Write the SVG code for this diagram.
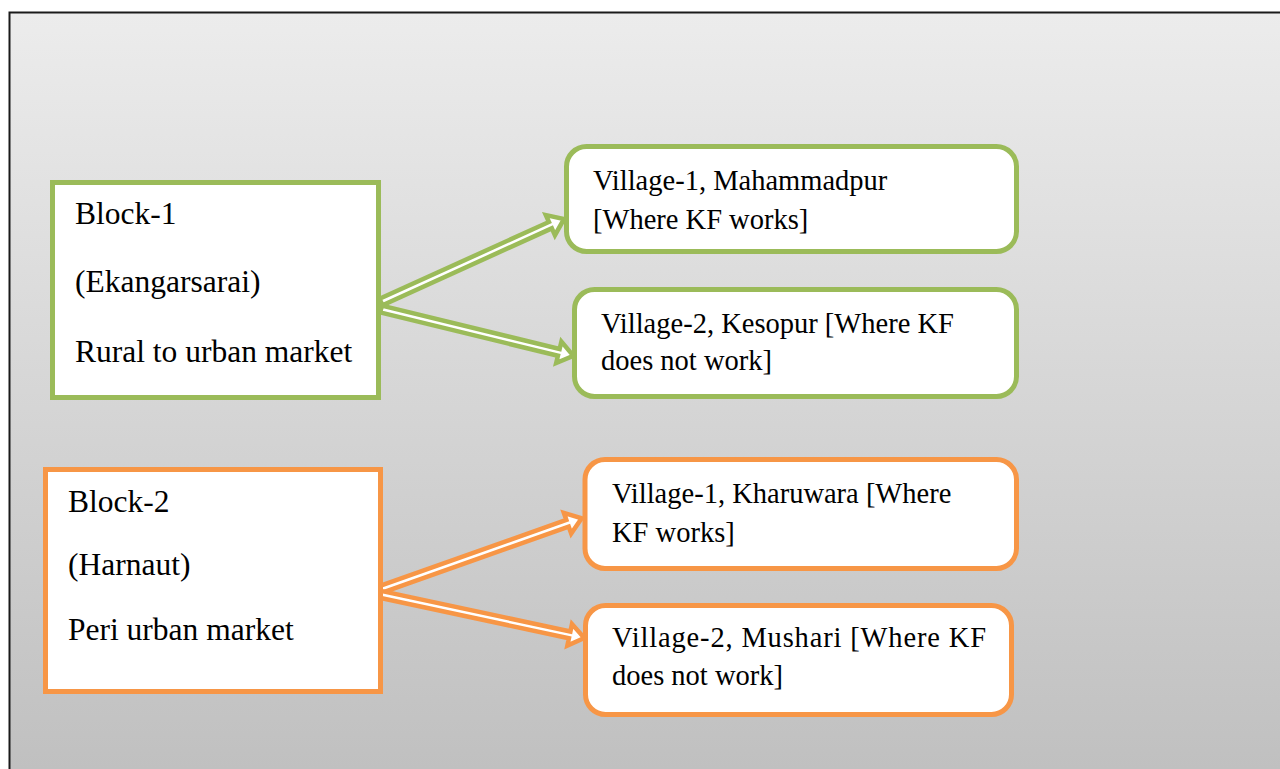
<svg xmlns="http://www.w3.org/2000/svg" width="1280" height="769" viewBox="0 0 1280 769" font-family="Liberation Serif, Times New Roman, DejaVu Serif, serif">
<defs>
<linearGradient id="bg" gradientUnits="userSpaceOnUse" x1="0" y1="12" x2="0" y2="769">
<stop offset="0" stop-color="#ececec"/>
<stop offset="1" stop-color="#c0c0c0"/>
</linearGradient>
<style>
.blk{font-size:31.5px}
.vil{font-size:28.5px}
.g{stroke:#9bbb59}
.o{stroke:#f79646}
.box{fill:#fff;stroke-width:5}
.arr{fill:#fff;stroke-width:4.5;stroke-linejoin:miter}
</style>
</defs>
<rect x="9.5" y="12.5" width="1290" height="800" fill="url(#bg)" stroke="#1a1a1a" stroke-width="2"/>

<g id="connectors">
<polygon class="arr g" transform="translate(381,302) rotate(-24.4)" points="0,-3.5 186,-3.5 186,-11 201,0 186,11 186,3.5 0,3.5"/>
<polygon class="arr g" transform="translate(381,309) rotate(13.7)" points="0,-3.5 183,-3.5 183,-11 198,0 183,11 183,3.5 0,3.5"/>
<polygon class="arr o" transform="translate(379,590) rotate(-19.5)" points="0,-3.5 200,-3.5 200,-11 215,0 200,11 200,3.5 0,3.5"/>
<polygon class="arr o" transform="translate(379,594) rotate(12.1)" points="0,-3.5 195,-3.5 195,-11 210,0 195,11 195,3.5 0,3.5"/>
</g>

<g id="block1" font-family="Liberation Serif, serif">
<rect class="box g" x="52.5" y="182.5" width="326" height="215"/>
<text class="blk" x="75" y="224">Block-1</text>
<text class="blk" x="75" y="292">(Ekangarsarai)</text>
<text class="blk" x="75" y="362">Rural to urban market</text>
</g>

<g id="block2" font-family="Liberation Serif, serif">
<rect class="box o" x="45.5" y="469.5" width="335" height="222"/>
<text class="blk" x="68" y="512">Block-2</text>
<text class="blk" x="68" y="575">(Harnaut)</text>
<text class="blk" x="68" y="640">Peri urban market</text>
</g>

<g id="village1a" font-family="Liberation Serif, serif">
<rect class="box g" x="566.5" y="146.5" width="450" height="105" rx="20"/>
<text class="vil" x="593" y="190">Village-1, Mahammadpur</text>
<text class="vil" x="593" y="229">[Where KF works]</text>
</g>

<g id="village2a" font-family="Liberation Serif, serif">
<rect class="box g" x="574.5" y="289.5" width="442" height="107" rx="20"/>
<text class="vil" x="601" y="333">Village-2, Kesopur [Where KF</text>
<text class="vil" x="601" y="370">does not work]</text>
</g>

<g id="village1b" font-family="Liberation Serif, serif">
<rect class="box o" x="585" y="459.5" width="431.5" height="109" rx="20"/>
<text class="vil" x="612" y="503">Village-1, Kharuwara [Where</text>
<text class="vil" x="612" y="542">KF works]</text>
</g>

<g id="village2b" font-family="Liberation Serif, serif">
<rect class="box o" x="585.5" y="605.5" width="426" height="109" rx="20"/>
<text class="vil" x="612" y="647" textLength="374" lengthAdjust="spacing">Village-2, Mushari [Where KF</text>
<text class="vil" x="612" y="685">does not work]</text>
</g>
</svg>
